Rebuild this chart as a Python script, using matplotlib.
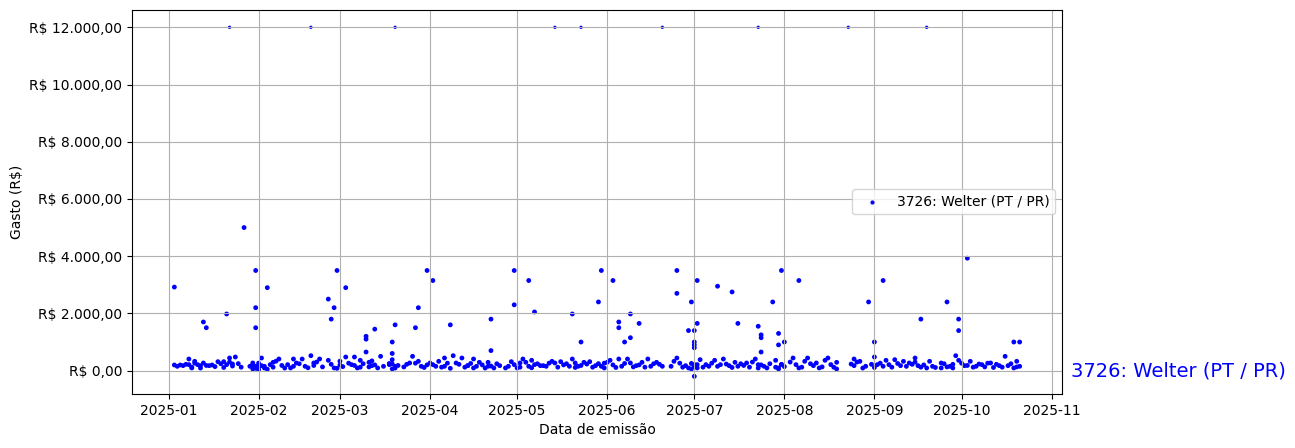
import numpy as np
import pandas as pd
import matplotlib
matplotlib.use("Agg")
import matplotlib.pyplot as plt
import matplotlib.ticker as mticker
import matplotlib.transforms as mtransforms

# dia do ano (0 = 2025-01-01) e gasto em R$
dia_alto = [2, 12, 13, 20, 26, 30, 30, 30, 34, 55, 56, 57, 58, 61, 68, 68, 68, 71, 77, 77,
            78, 85, 86, 89, 91, 97, 111, 111, 119, 119, 124, 126, 139, 142, 148, 149, 153,
            155, 155, 157, 159, 159, 162, 175, 175, 179, 180, 181, 181, 181, 181, 181, 182,
            182, 189, 194, 196, 203, 204, 204, 204, 208, 210, 210, 211, 212, 217, 241, 243,
            246, 259, 268, 272, 272, 275, 291, 293]
gasto_alto = [2920, 1700, 1500, 1980, 5000, 3500, 2200, 1500, 2900, 2500, 1800, 2200, 3500,
              2900, 1200, 1100, 650, 1450, 1000, 600, 1600, 1500, 2200, 3500, 3150, 1600,
              1800, 700, 3500, 2300, 3150, 2050, 1980, 1000, 2400, 3500, 3150, 1700, 1500,
              1000, 1980, 1150, 1650, 3500, 2700, 1400, 2400, 1400, 1000, 900, 800, -200,
              3150, 1650, 2950, 2750, 1650, 1550, 1250, 1150, 650, 2400, 1300, 900, 3500,
              1000, 3150, 2400, 1000, 3150, 1800, 2400, 1800, 1400, 3930, 1000, 1000]

dia_12k = [21, 49, 78, 133, 142, 170, 203, 234, 261]
gasto_12k = [12000] * 9

dia_baixo = [2, 4, 5, 7, 7, 8, 9, 10, 11, 12, 14, 15, 17, 19, 20, 21, 22, 23, 24, 28,
             29, 30, 31, 32, 32, 33, 35, 36, 38, 41, 42, 43, 44, 46, 47, 49, 50, 52, 55,
             57, 59, 61, 63, 64, 65, 66, 69, 70, 72, 73, 76, 77, 78, 81, 83, 84, 86, 87,
             90, 91, 93, 95, 95, 98, 99, 101, 103, 103, 105, 105, 107, 110, 110, 112, 114,
             116, 118, 120, 121, 122, 124, 125, 126, 128, 129, 132, 133, 135, 138, 139,
             140, 141, 143, 145, 147, 148, 150, 151, 152, 155, 156, 158, 159, 161, 163,
             165, 166, 168, 170, 174, 175, 178, 179, 181, 182, 183, 185, 186, 188, 190,
             191, 193, 195, 196, 199, 202, 203, 206, 209, 210, 211, 215, 216, 217, 219,
             220, 222, 223, 224, 226, 227, 230, 230, 236, 236, 238, 240, 243, 244, 246,
             247, 248, 250, 252, 253, 255, 257, 258, 261, 262, 266, 266, 269, 270, 271,
             272, 274, 276, 278, 280, 283, 286, 288, 289, 291, 292, 293]
gasto_baixo = [197, 197, 174, 406, 209, 93, 325, 209, 174, 267, 174, 197, 313, 313, 209,
               441, 232, 476, 244, 151, 267, 151, 35, 174, 441, 93, 209, 290, 406, 209, 93,
               406, 267, 406, 151, 522, 267, 406, 360, 93, 197, 476, 209, 476, 93, 360,
               290, 174, 93, 499, 209, 383, 151, 128, 267, 499, 325, 151, 267, 209, 325,
               441, 151, 522, 267, 441, 174, 174, 406, 93, 290, 151, 290, 93, 174, 93, 313,
               93, 267, 406, 151, 360, 209, 174, 174, 325, 267, 313, 151, 406, 267, 151,
               290, 313, 174, 244, 93, 290, 360, 406, 151, 406, 267, 174, 290, 406, 151,
               290, 151, 325, 441, 174, 93, 209, 93, 383, 209, 151, 360, 209, 406, 174,
               290, 151, 267, 406, 209, 93, 360, 93, 209, 441, 209, 93, 325, 441, 174, 267,
               93, 360, 441, 290, 58, 406, 174, 325, 151, 476, 209, 151, 360, 209, 383,
               174, 325, 267, 441, 174, 93, 325, 267, 93, 151, 93, 522, 360, 174, 325, 151,
               209, 267, 174, 499, 174, 93, 325, 151]

# pontos do aglomerado inferior, segunda leitura
dia_baixo2 = [3, 6, 8, 9, 11, 13, 16, 18, 19, 21, 22, 25, 29, 29, 30, 31, 31, 33, 34,
              36, 37, 39, 40, 43, 45, 48, 50, 51, 53, 56, 58, 59, 60, 62, 64, 66, 67, 69,
              70, 71, 74, 76, 77, 77, 78, 79, 82, 85, 88, 89, 92, 94, 96, 97, 100, 102,
              104, 106, 108, 109, 111, 113, 117, 119, 121, 123, 125, 127, 130, 131, 134,
              136, 137, 140, 142, 144, 146, 149, 150, 153, 154, 157, 160, 162, 164, 167,
              169, 173, 176, 177, 180, 180, 181, 182, 184, 187, 189, 192, 194, 197, 198,
              200, 201, 203, 204, 205, 207, 209, 210, 211, 212, 214, 218, 221, 225, 228,
              229, 235, 237, 239, 242, 243, 245, 249, 251, 254, 256, 257, 259, 260, 263,
              264, 267, 268, 270, 273, 275, 277, 279, 281, 282, 284, 285, 287, 290, 292]
gasto_baixo2 = [150, 220, 120, 260, 90, 180, 140, 240, 110, 300, 160, 120, 60, 210, 80,
                130, 260, 150, 50, 120, 330, 180, 90, 150, 240, 100, 180, 300, 130, 220,
                80, 330, 140, 260, 180, 120, 240, 130, 340, 200, 150, 250, 60, 240, 90,
                180, 220, 260, 110, 200, 150, 120, 260, 80, 220, 120, 250, 150, 200, 90,
                160, 240, 150, 210, 120, 290, 100, 240, 150, 260, 120, 200, 240, 110, 180,
                230, 120, 150, 260, 200, 110, 250, 130, 200, 120, 240, 220, 150, 260, 120,
                60, 250, 140, 210, 120, 260, 150, 230, 110, 240, 180, 120, 300, 90, 200,
                150, 240, 120, 60, 220, 140, 300, 120, 240, 130, 210, 120, 230, 300, 90,
                220, 110, 260, 120, 250, 150, 220, 300, 120, 200, 150, 110, 240, 130, 220,
                260, 180, 120, 230, 130, 260, 110, 220, 120, 240, 130]

rotulo = "3726: Welter (PT / PR)"

dia = np.array(dia_alto + dia_12k + dia_baixo + dia_baixo2)
gasto = np.array(gasto_alto + gasto_12k + gasto_baixo + gasto_baixo2, dtype=float)
datas = pd.Timestamp("2025-01-01") + pd.to_timedelta(dia, unit="D")
tamanho = np.where(gasto >= 12000, 2, 6)


def formata_real(v, pos):
    s = f"{v:,.2f}".replace(",", "X").replace(".", ",").replace("X", ".")
    return f"R$ {s}"


fig, ax = plt.subplots(figsize=(12.95, 4.48), dpi=100)
fig.subplots_adjust(left=0.102, right=0.820, top=0.978, bottom=0.121)

ax.scatter(datas, gasto, s=tamanho, c="blue", label=rotulo)
ax.yaxis.set_major_formatter(mticker.FuncFormatter(formata_real))
ax.set_xlabel("Data de emissão")
ax.set_ylabel("Gasto (R$)")
ax.grid(True)
ax.legend(loc="center right")

trans = mtransforms.blended_transform_factory(ax.transAxes, ax.transData)
ax.text(1.01, 0, rotulo, transform=trans, color="blue", fontsize=14,
        va="center", ha="left")

fig.savefig("out.png", dpi=100)
